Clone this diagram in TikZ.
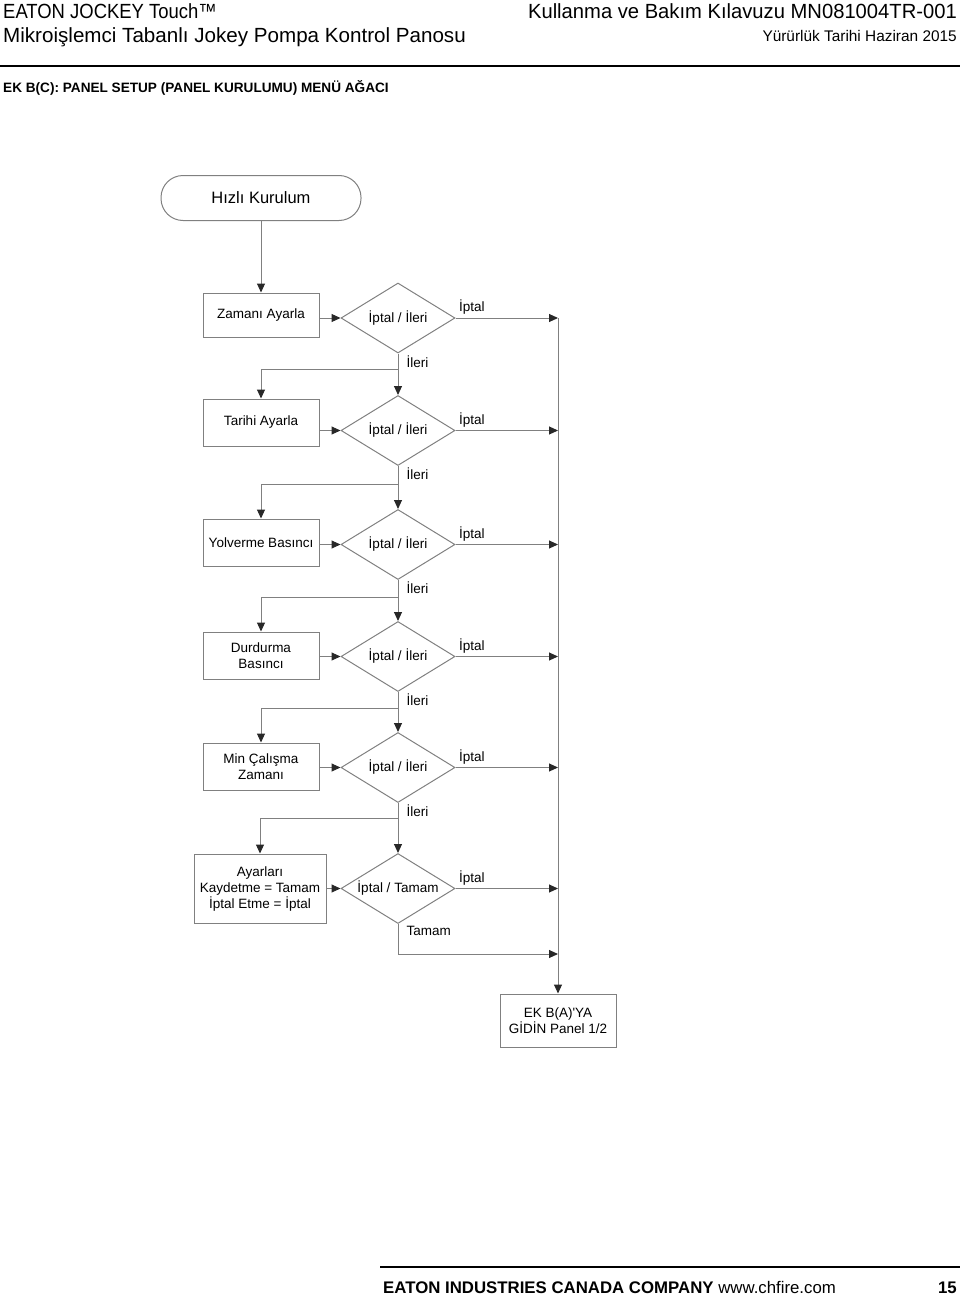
\documentclass[tikz,border=0pt]{standalone}
\usepackage{fontspec}
\setmainfont{Liberation Sans}
\usetikzlibrary{arrows.meta, positioning, shapes.geometric}

\definecolor{linegray}{RGB}{128,128,128}
\definecolor{tipgray}{RGB}{40,40,40}

\tikzset{
  stepbox/.style={draw=linegray, line width=1pt, rectangle, minimum width=116pt, minimum height=47pt, inner sep=2pt, align=center},
  startbox/.style={draw=linegray, line width=1pt, rectangle, rounded corners=22pt, minimum width=200pt, minimum height=45pt, font=\fontsize{16.5}{19}\selectfont},
  askbox/.style={draw=linegray, line width=1pt, diamond, aspect=1.63, minimum width=114pt, minimum height=70pt, inner sep=1pt},
  link/.style={->, draw=linegray, line width=1pt},
  iptal/.style={pos=0, anchor=south west, xshift=2pt, yshift=2pt, inner sep=1pt},
  ileri/.style={pos=0, anchor=north west, xshift=7pt, yshift=-0.5pt, inner sep=1pt},
}

\begin{document}
\begin{tikzpicture}[x=1pt, y=-1pt, font=\fontsize{13.5}{16}\selectfont,
  >={Triangle[length=9pt, width=8pt, color=tipgray]}]
		\useasboundingbox (0,0) rectangle (960,1295);

		% Header
		\node[anchor=base west, inner sep=0pt] (head1) at (3,19) {\fontsize{20.5}{24}\selectfont\scalebox{0.9}[1]{EATON JOCKEY Touch™}};
		\node[anchor=base east, inner sep=0pt] (head2) at (957,19) {\fontsize{20.5}{24}\selectfont\scalebox{0.985}[1]{Kullanma ve Bakım Kılavuzu MN081004TR-001}};
		\node[anchor=base west, inner sep=0pt] (head3) at (3,43) {\fontsize{20.5}{24}\selectfont\scalebox{1.005}[1]{Mikroişlemci Tabanlı Jokey Pompa Kontrol Panosu}};
		\node[anchor=base east, inner sep=0pt] (head4) at (957,42) {\fontsize{15.4}{18}\selectfont Yürürlük Tarihi Haziran 2015};
		\draw[line width=2pt] (0,66) -- (960,66);
		\node[anchor=base west, inner sep=0pt] (title) at (3,93) {\fontsize{13.6}{16}\selectfont\bfseries EK B(C): PANEL SETUP (PANEL KURULUMU) MENÜ AĞACI};

		% Nodes
		\node[startbox] (hizli) at (261,198) {Hızlı Kurulum};
		\node[stepbox, minimum height=44pt] (zaman) at (261,315) {Zamanı Ayarla};
		\node[askbox] (q1) at (398,318) {İptal / İleri};
		\node[stepbox] (tarih) at (261,422.5) {Tarihi Ayarla};
		\node[askbox] (q2) at (398,430.5) {İptal / İleri};
		\node[stepbox] (yolver) at (261,542.5) {Yolverme Basıncı};
		\node[askbox] (q3) at (398,544.5) {İptal / İleri};
		\node[stepbox] (durdur) at (261,655.5) {Durdurma\\Basıncı};
		\node[askbox] (q4) at (398,656.5) {İptal / İleri};
		\node[stepbox] (mincal) at (261,766.5) {Min Çalışma\\Zamanı};
		\node[askbox] (q5) at (398,767.5) {İptal / İleri};
		\node[stepbox, minimum width=132pt, minimum height=69pt] (kaydet) at (260,888.5) {Ayarları\\Kaydetme = Tamam\\İptal Etme = İptal};
		\node[askbox] (q6) at (398,888.5) {İptal / Tamam};
		\node[stepbox, minimum height=53pt] (git) at (558,1020.5) {EK B(A)\textquotesingle YA\\GİDİN Panel 1/2};

		\coordinate (rail) at (558,318);
		\coordinate (tamam) at (558,954);

		% Arrows
		\draw[link] (hizli) -- (zaman);
		\draw[link] (zaman.east |- q1) -- (q1);
		\draw[link] (q1) -- (q1 -| rail) node[iptal] {İptal};
		\draw[link] (q1) -- (q2) node[ileri] {İleri};
		\draw[link] ([yshift=-16pt]q1.south) -| (tarih);

		\draw[link] (tarih.east |- q2) -- (q2);
		\draw[link] (q2) -- (q2 -| rail) node[iptal] {İptal};
		\draw[link] (q2) -- (q3) node[ileri] {İleri};
		\draw[link] ([yshift=-18pt]q2.south) -| (yolver);

		\draw[link] (yolver.east |- q3) -- (q3);
		\draw[link] (q3) -- (q3 -| rail) node[iptal] {İptal};
		\draw[link] (q3) -- (q4) node[ileri] {İleri};
		\draw[link] ([yshift=-17pt]q3.south) -| (durdur);

		\draw[link] (durdur.east |- q4) -- (q4);
		\draw[link] (q4) -- (q4 -| rail) node[iptal] {İptal};
		\draw[link] (q4) -- (q5) node[ileri] {İleri};
		\draw[link] ([yshift=-16pt]q4.south) -| (mincal);

		\draw[link] (mincal.east |- q5) -- (q5);
		\draw[link] (q5) -- (q5 -| rail) node[iptal] {İptal};
		\draw[link] (q5) -- (q6) node[ileri] {İleri};
		\draw[link] ([yshift=-15pt]q5.south) -| (kaydet);

		\draw[link] (kaydet.east |- q6) -- (q6);
		\draw[link] (q6) -- (q6 -| rail) node[iptal] {İptal};
		\draw[link] (q6.south) |- (tamam) node[ileri] {Tamam};
		\draw[link] (rail) -- (git);

		% Footer
		\draw[line width=2pt] (380,1267) -- (960,1267);
		\node[anchor=base west, inner sep=0pt] (foot) at (383,1293) {\fontsize{16.8}{20}\selectfont\textbf{EATON INDUSTRIES CANADA COMPANY} www.chfire.com};
		\node[anchor=base east, inner sep=0pt] (page) at (957,1293) {\fontsize{16.8}{20}\selectfont\textbf{15}};
\end{tikzpicture}
\end{document}
